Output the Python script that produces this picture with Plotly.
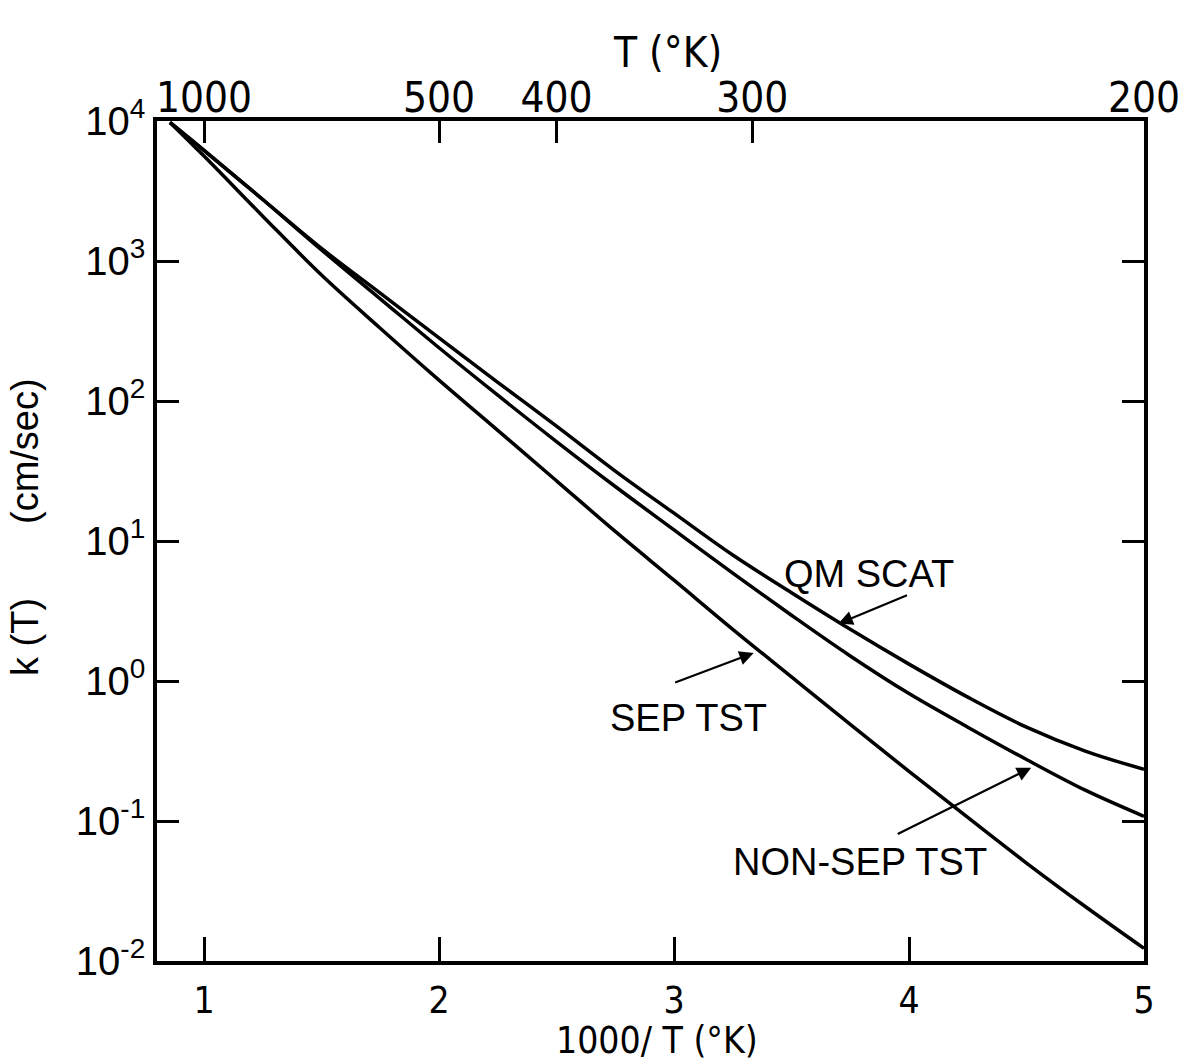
import plotly.graph_objects as go

# 1000/T values (x positions)
inv_T = [0.855, 1.0, 1.25, 1.5, 1.75, 2.0, 2.25, 2.5, 2.75, 3.0,
         3.25, 3.5, 3.75, 4.0, 4.25, 4.5, 4.75, 5.0]

# k(T) in cm/sec
qm_scat = [9770, 6170, 2750, 1230, 589, 282, 136, 66.1, 31.6, 15.8,
           7.94, 4.27, 2.34, 1.32, 0.767, 0.468, 0.316, 0.234]
non_sep_tst = [9770, 6170, 2750, 1200, 537, 240, 110, 51.3, 24.5, 12.0,
               5.89, 2.95, 1.51, 0.813, 0.468, 0.275, 0.166, 0.108]
sep_tst = [9770, 5620, 2090, 794, 331, 141, 61.7, 26.9, 11.7, 5.25,
           2.34, 1.07, 0.490, 0.226, 0.106, 0.0501, 0.0245, 0.0123]

x_tickvals = [1, 2, 3, 4, 5]
x_ticktext = ["1", "2", "3", "4", "5"]
T_labels = [1000, 500, 400, 300, 200]
y_tickvals = [1e-2, 1e-1, 1e0, 1e1, 1e2, 1e3, 1e4]
y_ticktext = ["10<sup>-2</sup>", "10<sup>-1</sup>", "10<sup>0</sup>", "10<sup>1</sup>",
              "10<sup>2</sup>", "10<sup>3</sup>", "10<sup>4</sup>"]

NARROW = "Liberation Sans Narrow, DejaVu Sans Condensed, Liberation Sans, sans-serif"
SANS = "Liberation Sans, Arial, sans-serif"
NB = "\u00a0"

W, H = 1185, 1062
ML, MR, MT, MB = 157, 41, 121, 101
plot_h = H - MT - MB
plot_w = W - ML - MR

fig = go.Figure()
for name, vals in [("QM SCAT", qm_scat), ("NON-SEP TST", non_sep_tst), ("SEP TST", sep_tst)]:
    fig.add_trace(go.Scatter(x=inv_T, y=vals, mode="lines", name=name,
                             line=dict(color="black", width=3.5, shape="spline", smoothing=1.0),
                             showlegend=False, hoverinfo="skip"))
# invisible trace to carry the top T axis
fig.add_trace(go.Scatter(x=inv_T, y=qm_scat, mode="lines", xaxis="x2", yaxis="y",
                         line=dict(color="rgba(0,0,0,0)", width=0), showlegend=False,
                         hoverinfo="skip"))

T_pos = [1000.0 / t for t in T_labels]

fig.update_layout(
    width=W, height=H,
    margin=dict(l=ML, r=MR, t=MT, b=MB),
    paper_bgcolor="white", plot_bgcolor="white",
    xaxis=dict(range=[0.8, 5], tickvals=x_tickvals, ticktext=x_ticktext,
               ticks="inside", ticklen=24, tickwidth=2.5, tickcolor="black",
               showline=True, linewidth=3.5, linecolor="black", mirror=True,
               showgrid=False, zeroline=False, automargin=False,
               tickfont=dict(family=NARROW, size=37, color="black"),
               ticklabelstandoff=4),
    xaxis2=dict(range=[0.8, 5], overlaying="x", side="top", anchor="y",
                tickvals=T_pos, ticktext=[str(t) for t in T_labels],
                ticks="inside", ticklen=22, tickwidth=2.5, tickcolor="black",
                showline=False, showgrid=False, zeroline=False, automargin=False,
                tickfont=dict(family=NARROW, size=42, color="black")),
    yaxis=dict(type="log", range=[-2, 4], tickvals=y_tickvals, ticktext=y_ticktext,
               ticks="inside", ticklen=22, tickwidth=2.5, tickcolor="black",
               showline=True, linewidth=3.5, linecolor="black", mirror="ticks",
               showgrid=False, zeroline=False, automargin=False,
               tickfont=dict(family=SANS, size=40, color="black")),
    annotations=[
        dict(text="T (°K)", x=(667 - ML) / plot_w, y=1 + (MT - 52) / plot_h,
             xref="paper", yref="paper", xanchor="center", yanchor="middle", showarrow=False,
             font=dict(family=NARROW, size=42, color="black")),
        dict(text="1000/ T (°K)", x=(657 - ML) / plot_w, y=-(1040 - (H - MB)) / plot_h,
             xref="paper", yref="paper", xanchor="center", yanchor="middle", showarrow=False,
             font=dict(family=NARROW, size=37, color="black")),
        dict(text="k" + NB + "(T)" + NB * 7 + "(cm/sec)", x=-(ML - 25) / plot_w,
             y=((H - MB) - 527) / plot_h, xref="paper", yref="paper",
             xanchor="center", yanchor="middle", textangle=-90, showarrow=False,
             font=dict(family=SANS, size=38, color="black")),
        dict(text="QM SCAT", x=3.829, y=0.764, xref="x", yref="y", showarrow=False,
             font=dict(family=SANS, size=38, color="black")),
        dict(text="SEP TST", x=3.062, y=-0.262, xref="x", yref="y", showarrow=False,
             font=dict(family=SANS, size=38, color="black")),
        dict(text="NON-SEP TST", x=3.791, y=-1.295, xref="x", yref="y", showarrow=False,
             font=dict(family=SANS, size=38, color="black")),
        dict(text="", x=3.70, y=0.41, xref="x", yref="y", ax=70, ay=-29, showarrow=True,
             arrowhead=2, arrowsize=1.3, arrowwidth=2.2, arrowcolor="black"),
        dict(text="", x=3.339, y=0.20, xref="x", yref="y", ax=-80, ay=30, showarrow=True,
             arrowhead=2, arrowsize=1.3, arrowwidth=2.2, arrowcolor="black"),
        dict(text="", x=4.52, y=-0.62, xref="x", yref="y", ax=-135, ay=67, showarrow=True,
             arrowhead=2, arrowsize=1.3, arrowwidth=2.2, arrowcolor="black"),
    ],
)

fig.write_html("out.html", config={"displayModeBar": False},
               post_script="document.body.style.margin='0';document.body.style.overflow='hidden';")
